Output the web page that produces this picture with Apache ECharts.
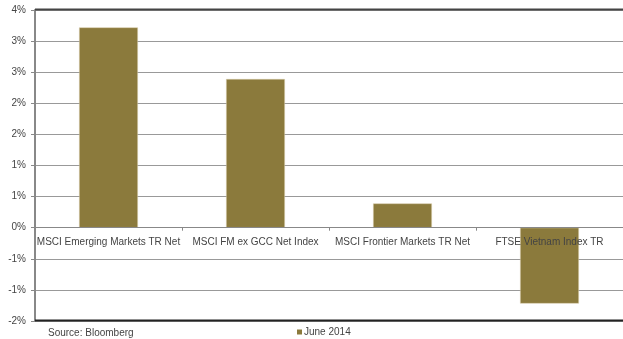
<!DOCTYPE html>
<html><head><meta charset="utf-8">
<script src="https://cdn.jsdelivr.net/npm/echarts@6/dist/echarts.min.js"></script>
<style>html,body{margin:0;padding:0;background:#fff}#c{width:623px;height:339px}</style>
</head><body><div id="c"></div>
<script>
const categories = ['MSCI Emerging Markets TR Net','MSCI FM ex GCC Net Index','MSCI Frontier Markets TR Net','FTSE Vietnam Index TR'];
const values = [3.22, 2.39, 0.39, -1.22];
const seriesName = 'June 2014';
const sourceText = 'Source: Bloomberg';
const yMin = -1.5, yMax = 3.5, yStep = 0.5;

const chart = echarts.init(document.getElementById('c'));
const font = '"Liberation Sans", Arial, sans-serif';
const gridTop = 10, gridBottom = 18, H = 339;
const plotH = H - gridTop - gridBottom;
const zeroY = gridTop + plotH * (yMax - 0) / (yMax - yMin);
const bottomY = H - gridBottom;
chart.setOption({
  animation: false,
  textStyle: {fontFamily: font},
  grid: {left: 35, right: 0, top: gridTop, bottom: gridBottom},
  graphic: [
    {type: 'text', left: 48, top: 328, style: {text: sourceText, font: '10px ' + font, fill: '#444'}},
    {type: 'line', shape: {x1: 35, y1: 9.5, x2: 623, y2: 9.5}, style: {stroke: '#444', lineWidth: 2}, z: 10},
    {type: 'line', shape: {x1: 35, y1: 320.5, x2: 623, y2: 320.5}, style: {stroke: '#222', lineWidth: 2}, z: 10}
  ],
  legend: {
    left: 297, top: 327, padding: 0, itemWidth: 5, itemHeight: 5, itemGap: 2,
    icon: 'rect',
    itemStyle: {borderWidth: 0},
    textStyle: {fontSize: 10, color: '#444', fontFamily: font, padding: [0,0,0,-3]},
    data: [seriesName]
  },
  xAxis: {
    type: 'category', data: categories, z: 5,
    axisLine: {onZero: true, lineStyle: {color: '#888', width: 1}},
    axisTick: {show: true, length: 3, lineStyle: {color: '#888'}},
    axisLabel: {color: '#444', fontSize: 10, margin: -(bottomY - zeroY) + 10, interval: 0}
  },
  yAxis: {
    type: 'value', min: yMin, max: yMax, interval: yStep,
    axisLine: {show: true, lineStyle: {color: '#888', width: 2}},
    axisTick: {show: true, length: 4, lineStyle: {color: '#888'}},
    axisLabel: {color: '#444', fontSize: 10, margin: 9,
      formatter: v => (v < 0 ? '-' : '') + Math.round(Math.abs(v)) + '%'},
    splitLine: {lineStyle: {color: '#999', width: 1}}
  },
  series: [{
    name: seriesName, type: 'bar', data: values, barWidth: '40%',
    itemStyle: {color: '#8b7a3c', borderColor: '#d8ccaa', borderWidth: 0.5}
  }]
});
</script></body></html>
